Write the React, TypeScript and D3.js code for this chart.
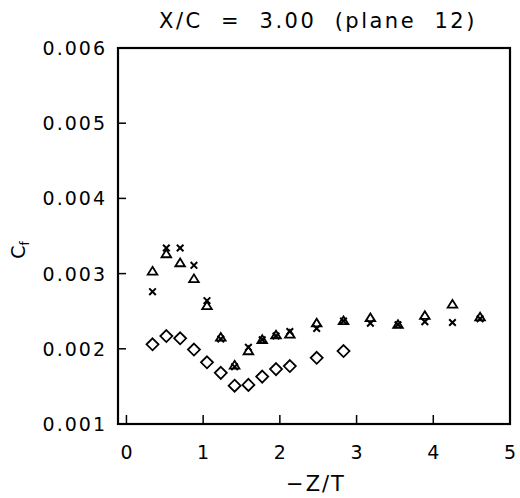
import React from "react";
import * as d3 from "d3";

const diamondX = [0.34, 0.52, 0.70, 0.88, 1.05, 1.23, 1.41, 1.59, 1.77, 1.95, 2.13, 2.48, 2.83];
const diamondY = [0.00206, 0.00217, 0.00214, 0.00199, 0.00182, 0.00168, 0.00151, 0.00152, 0.00163, 0.00173, 0.00177, 0.00188, 0.00197];

const triX = [0.34, 0.52, 0.70, 0.88, 1.05, 1.23, 1.41, 1.59, 1.77, 1.95, 2.13, 2.48, 2.83, 3.18, 3.54, 3.89, 4.25, 4.61];
const triY = [0.00303, 0.00326, 0.00314, 0.00293, 0.00257, 0.00215, 0.00178, 0.00197, 0.00212, 0.00218, 0.00219, 0.00234, 0.00237, 0.00241, 0.00232, 0.00244, 0.00259, 0.00242];

const crossX = [0.34, 0.52, 0.70, 0.88, 1.05, 1.23, 1.41, 1.59, 1.77, 1.95, 2.13, 2.48, 2.83, 3.18, 3.54, 3.89, 4.25, 4.61];
const crossY = [0.00276, 0.00334, 0.00334, 0.00311, 0.00264, 0.00213, 0.00176, 0.00202, 0.00212, 0.00217, 0.00223, 0.00227, 0.00237, 0.00234, 0.00232, 0.00236, 0.00235, 0.0024];

const xTicks = [0, 1, 2, 3, 4, 5];
const yTicks = [0.001, 0.002, 0.003, 0.004, 0.005, 0.006];

export default function App() {
  const W = 520, H = 498;
  const L = 118, R = 510, T = 48, B = 424;
  const x = d3.scaleLinear().domain([-0.11, 5]).range([L, R]);
  const y = d3.scaleLinear().domain([0.001, 0.006]).range([B, T]);
  const font = "'DejaVu Sans', sans-serif";
  const ds = 6, cs = 3.3;
  const triPath = (cx: number, cy: number) =>
    `M${cx},${cy - 4.5} L${cx + 4.8},${cy + 3.2} L${cx - 4.8},${cy + 3.2} Z`;
  return (
    <svg width={W} height={H} style={{ position: "absolute", left: 0, top: 0, background: "#fff" }}>
      <rect x={0} y={0} width={W} height={H} fill="#fff" />
      <text x={318} y={28} textAnchor="middle" fontFamily={font} fontSize={21} letterSpacing={2.5} style={{ whiteSpace: "pre" }}>
        {"X/C  =  3.00  (plane  12)"}
      </text>
      <rect x={L} y={T} width={R - L} height={B - T} fill="none" stroke="#000" strokeWidth={2.2} />
      {xTicks.map((t) => (
        <g key={"xt" + t}>
          {t < 5 && <line x1={x(t)} x2={x(t)} y1={B} y2={B - 9} stroke="#000" strokeWidth={1.5} />}
          <text x={x(t)} y={459} textAnchor="middle" fontFamily={font} fontSize={19}>{t}</text>
        </g>
      ))}
      {yTicks.map((t) => (
        <g key={"yt" + t}>
          <line x1={L} x2={L + 8} y1={y(t)} y2={y(t)} stroke="#000" strokeWidth={1.5} />
          <text x={107} y={y(t) + 7} textAnchor="end" fontFamily={font} fontSize={19} letterSpacing={2}>{t.toFixed(3)}</text>
        </g>
      ))}
      <text x={316} y={491} textAnchor="middle" fontFamily={font} fontSize={21} letterSpacing={2}>−Z/T</text>
      <g transform="translate(25,250) rotate(-90)">
        <text x={0} y={0} textAnchor="middle" fontFamily={font} fontSize={19}>
          C<tspan fontSize={12} dy={4}>f</tspan>
        </text>
      </g>
      {diamondX.map((v, i) => {
        const cx = x(v), cy = y(diamondY[i]);
        return (
          <path key={"d" + i} d={`M${cx},${cy - ds} L${cx + ds},${cy} L${cx},${cy + ds} L${cx - ds},${cy} Z`}
            fill="none" stroke="#000" strokeWidth={1.8} />
        );
      })}
      {triX.map((v, i) => (
        <path key={"t" + i} d={triPath(x(v), y(triY[i]))} fill="none" stroke="#000" strokeWidth={1.8} />
      ))}
      {crossX.map((v, i) => {
        const cx = x(v), cy = y(crossY[i]);
        return (
          <path key={"c" + i} d={`M${cx - cs},${cy - cs} L${cx + cs},${cy + cs} M${cx - cs},${cy + cs} L${cx + cs},${cy - cs}`}
            fill="none" stroke="#000" strokeWidth={2} />
        );
      })}
    </svg>
  );
}
